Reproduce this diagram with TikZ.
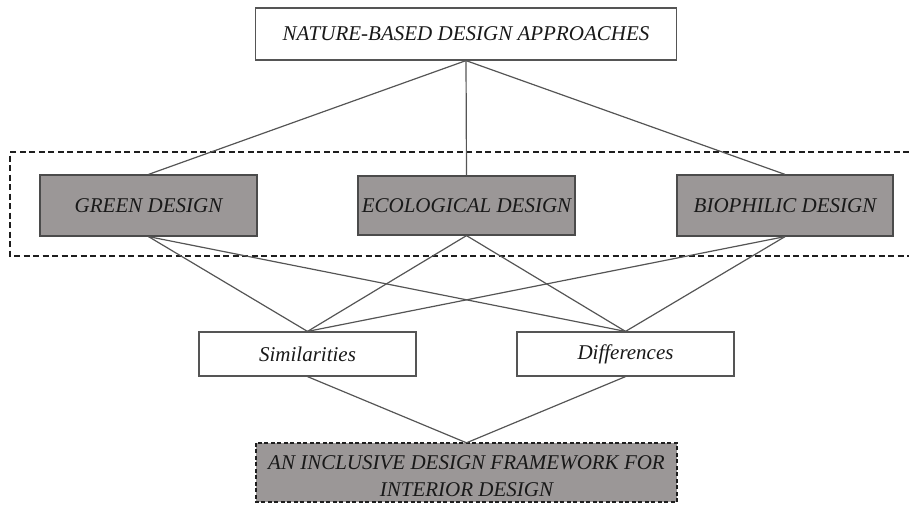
\documentclass[tikz,border=0pt]{standalone}
\usepackage{fontspec}
\setmainfont{Liberation Serif}
\definecolor{boxgray}{RGB}{155,151,151}
\definecolor{linegray}{RGB}{85,85,85}
\definecolor{framedark}{RGB}{30,30,30}
\begin{document}
\begin{tikzpicture}[x=1pt,y=-1pt,
  lbl/.style={font=\fontsize{21}{27}\selectfont\itshape, text=black!90},
  whitebox/.style={draw=linegray, line width=1.2pt, fill=white, lbl},
  graybox/.style={draw=framedark!80, line width=1.2pt, fill=boxgray, lbl},
  conn/.style={draw=linegray, line width=1.2pt},
  dashframe/.style={draw=framedark, line width=2.2pt, dash pattern=on 6pt off 3.5pt}]
\useasboundingbox (0,0) rectangle (909,504);
% dashed group frame (right side runs off the picture)
\draw[dashframe] (909,152) -- (10,152) -- (10,256) -- (909,256);
% nodes
\node[whitebox, minimum width=421pt, minimum height=52pt] (top) at (466,34) {NATURE-BASED DESIGN APPROACHES};
\node[graybox, minimum width=217pt, minimum height=61pt] (green) at (148.5,205.5) {GREEN DESIGN};
\node[graybox, minimum width=217pt, minimum height=59pt, inner xsep=2pt] (eco) at (466.5,205.5) {ECOLOGICAL DESIGN};
\node[graybox, minimum width=216pt, minimum height=61pt] (bio) at (785,205.5) {BIOPHILIC DESIGN};
\node[whitebox, minimum width=217pt, minimum height=44pt] (sim) at (307.5,354) {Similarities};
\node[whitebox, minimum width=217pt, minimum height=44pt] (dif) at (625.5,354) {Differences};
\node[fill=boxgray, minimum width=421pt, minimum height=59pt, inner sep=0pt] (frame) at (466.5,472.5) {};
\draw[draw=framedark, line width=2pt, dash pattern=on 4pt off 2.5pt] (frame.north west) rectangle (frame.south east);
\node[lbl, align=center, inner sep=0pt] (frametext) at ([yshift=-4pt]frame.center) {AN INCLUSIVE DESIGN FRAMEWORK FOR\\ INTERIOR DESIGN};
% connectors
\draw[conn] (top.south) -- (green.north);
\draw[conn] (top.south) -- (eco.north);
\draw[conn] (top.south) -- (bio.north);
\draw[conn] (green.south) -- (sim.north);
\draw[conn] (green.south) -- (dif.north);
\draw[conn] (eco.south) -- (sim.north);
\draw[conn] (eco.south) -- (dif.north);
\draw[conn] (bio.south) -- (sim.north);
\draw[conn] (bio.south) -- (dif.north);
\draw[conn] (sim.south) -- (frame.north);
\draw[conn] (dif.south) -- (frame.north);
\end{tikzpicture}
\end{document}
